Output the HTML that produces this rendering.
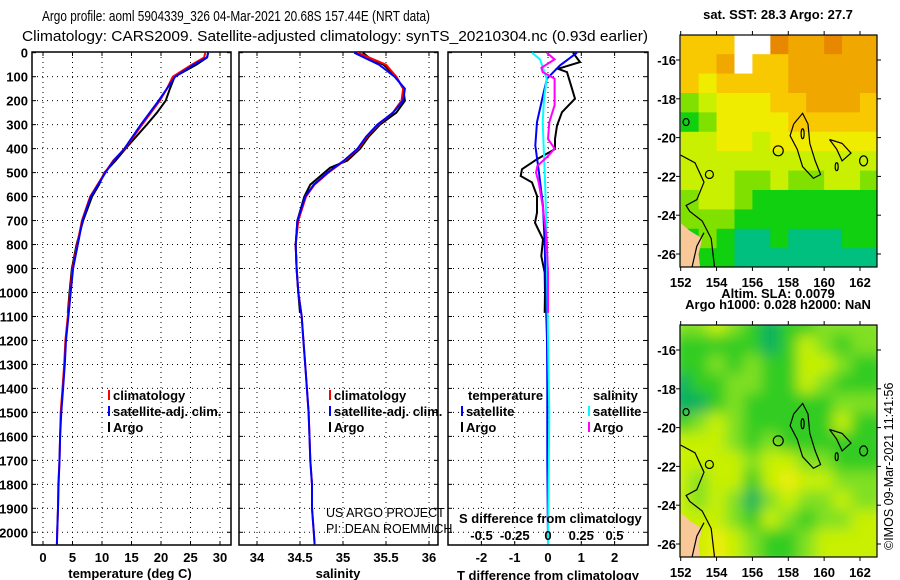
<!DOCTYPE html>
<html><head><meta charset="utf-8"><style>
html,body{margin:0;padding:0;background:#fff;}
svg{display:block;font-family:"Liberation Sans",sans-serif;}
.t{font-weight:bold;font-size:13px;fill:#000;}
.ti{font-weight:normal;font-size:15px;fill:#000;}
</style></head><body>
<svg id="c" width="900" height="580" viewBox="0 0 900 580" xmlns="http://www.w3.org/2000/svg">
<defs>
<clipPath id="cpT"><rect x="680" y="35" width="197" height="232"/></clipPath>
<clipPath id="cpB"><rect x="680" y="325" width="197" height="232"/></clipPath>
<filter id="bl" x="-10%" y="-10%" width="120%" height="120%"><feGaussianBlur stdDeviation="7"/></filter>
</defs>
<text class="ti" x="42" y="21" textLength="388" lengthAdjust="spacingAndGlyphs">Argo profile: aoml 5904339_326 04-Mar-2021 20.68S 157.44E (NRT data)</text>
<text class="ti" x="22" y="41" textLength="626" lengthAdjust="spacingAndGlyphs">Climatology: CARS2009. Satellite-adjusted climatology: synTS_20210304.nc (0.93d earlier)</text>
<g id="g"></g>
</svg>
<script>
// ---- profile data ----
const depthTClim = [0,20,50,100,150,200,300,400,450,500,600,700,800,900,1000,1100,1200,1300,1400,1500,1600,1700,1800,1900,2000,2050];
const tempClim   = [27.5,27.3,25.2,22.0,21.0,19.8,16.8,13.9,11.9,10.5,8.0,6.6,5.8,5.0,4.6,4.2,3.8,3.6,3.3,3.0,2.9,2.8,2.6,2.55,2.4,2.35];
const tempSat    = [28.0,27.8,25.5,22.4,21.0,19.6,16.6,13.8,12.0,10.6,8.1,6.7,5.9,5.1,4.7,4.3,3.9,3.7,3.4,3.1,2.9,2.8,2.65,2.55,2.4,2.35];
const depthArgo  = [0,20,50,100,150,200,250,300,400,450,500,550,600,700,800,900,1000,1085];
const tempArgo   = [28.0,27.8,26.0,22.3,21.5,20.8,19.3,17.6,14.0,12.3,10.4,9.5,8.3,6.8,5.7,4.9,4.5,4.2];
const depthSClim = [0,50,100,150,200,250,300,350,400,450,500,550,600,700,800,900,1000,1100,1200,1300,1400,1500,1600,1700,1800,1900,2000,2050];
const salClim    = [35.17,35.5,35.62,35.70,35.68,35.58,35.41,35.28,35.18,35.02,34.83,34.67,34.57,34.48,34.45,34.46,34.48,34.52,34.54,34.56,34.58,34.6,34.61,34.62,34.64,34.64,34.66,34.67];
const salSat     = [35.13,35.42,35.6,35.72,35.70,35.58,35.40,35.27,35.17,35.01,34.82,34.66,34.56,34.47,34.45,34.46,34.48,34.52,34.54,34.56,34.58,34.6,34.61,34.62,34.64,34.64,34.66,34.67];
const salArgo    = [35.23,35.30,35.47,35.62,35.70,35.72,35.62,35.43,35.3,35.2,35.05,34.85,34.62,34.55,34.47,34.45,34.46,34.48,34.5];
const depthSArgo = [0,20,50,100,150,200,250,300,350,400,450,480,550,600,700,800,900,1000,1085];
// difference panel
const dArgoT  = [0,39,67,81,150,192,248,304,360,402,444,486,514,541,597,667,709,778,848,917,1001,1085];
const diffTArgo = [0.75,0.96,0.3,0.57,0.72,0.81,0.42,0.27,0.21,0.21,-0.33,-0.78,-0.82,-0.48,-0.33,-0.33,-0.39,-0.15,-0.2,-0.1,-0.09,-0.1];
const dSatT   = [0,53,108,178,290,387,500,639,800,1057,1196,1400,1700,2050];
const diffTSat  = [0.87,0.36,-0.03,-0.15,-0.33,-0.38,-0.27,-0.15,-0.1,-0.06,-0.03,-0.02,-0.02,0.0];
const dSatS   = [0,28,108,192,290,430,570,778,1196,1500,2050];
const diffSSat  = [-0.12,-0.06,-0.01,-0.03,-0.04,-0.03,-0.02,-0.01,0.0,0.01,0.0];
const dArgoS  = [0,28,63,81,108,219,290,360,400,431,472,500,541,639,778,917,1085];
const diffSArgo = [-0.01,0.05,-0.05,-0.04,0.05,0.05,0.01,0.0,0.05,0.0,-0.08,-0.09,-0.07,-0.04,-0.01,0.0,0.0];
const depthTicks = [0,100,200,300,400,500,600,700,800,900,1000,1100,1200,1300,1400,1500,1600,1700,1800,1900,2000];
const tTicks = [0,5,10,15,20,25,30];
const sTicks = [34,34.5,35,35.5,36];
const dTTicks = [-2,-1,0,1,2];
const dSTicks = [-0.5,-0.25,0,0.25,0.5];
const dSLabels = ["-0.5","-0.25","0","0.25","0.5"];
// maps: rows lat -15..-26, cols lon 152..162 (colour class)
const sstGrid = [
 [5,5,5,9,9,7,6,6,7,6,6],
 [5,5,6,9,5,5,6,6,6,6,6],
 [5,4,5,5,5,5,6,6,6,6,6],
 [2,3,4,4,4,5,5,6,6,6,5],
 [1,2,4,4,4,4,5,5,5,5,5],
 [3,3,4,4,3,4,4,4,4,4,4],
 [3,3,3,3,3,3,3,3,3,3,3],
 [3,3,3,2,2,3,2,2,3,3,2],
 [2,3,3,2,1,1,1,1,1,1,1],
 [2,2,2,1,1,1,1,1,1,1,1],
 [1,2,1,0,0,1,0,0,0,1,1],
 [1,1,1,0,0,0,0,0,0,0,0]];
const slaGrid = [
 [2,2,3,2,1,0,1,1,2,2,2],
 [1,1,1,1,1,0,1,3,2,1,2],
 [1,1,2,1,2,1,1,3,3,2,1],
 [0,1,1,2,2,1,1,3,2,1,1],
 [0,0,1,2,1,1,1,1,1,2,2],
 [1,2,3,2,1,1,1,1,1,3,1],
 [3,3,3,2,1,2,1,1,1,1,1],
 [3,3,3,3,2,3,3,2,2,1,1],
 [3,2,3,3,1,3,4,3,3,2,2],
 [3,2,3,2,0,2,3,2,2,3,2],
 [3,3,3,2,1,3,2,1,2,2,3],
 [3,3,4,3,2,1,1,2,3,3,3]];
const lonTicks=[152,154,156,158,160,162];
const latTicks=[-16,-18,-20,-22,-24,-26];
const argoLon=157.44, argoLat=-20.68;

const NS="http://www.w3.org/2000/svg";
const G=document.getElementById('g');
function el(t,a,p){const e=document.createElementNS(NS,t);for(const k in a)e.setAttribute(k,a[k]);(p||G).appendChild(e);return e;}
function txt(x,y,s,a,p){const e=el('text',Object.assign({x:x,y:y,class:'t'},a||{}),p);e.textContent=s;return e;}
const Y=d=>52.7+d*0.2398;
const PB=545;
const xT=v=>43+v*5.9, xS=v=>257+(v-34)*86, xdT=v=>548+v*33.3, xdS=v=>548+v*133;

function panel(x0,x1,name,vt,vfn){
  const p=el('g',{});
  
  
  vt.forEach(v=>{const x=vfn(v);el('line',{x1:x,x2:x,y1:52,y2:PB,stroke:'#000','stroke-dasharray':'1,4','stroke-width':1},p);
    el('line',{x1:x,x2:x,y1:52,y2:56,stroke:'#000'},p);el('line',{x1:x,x2:x,y1:PB-4,y2:PB,stroke:'#000'},p);});
  depthTicks.forEach(d=>{const y=Y(d);if(d>0)el('line',{x1:x0,x2:x1,y1:y,y2:y,stroke:'#000','stroke-dasharray':'1,4'},p);
    el('line',{x1:x0,x2:x0+4,y1:y,y2:y,stroke:'#000'},p);el('line',{x1:x1-4,x2:x1,y1:y,y2:y,stroke:'#000'},p);});
  el('rect',{x:x0,y:52,width:x1-x0,height:PB-52,fill:'none',stroke:'#000','stroke-width':1.5},p);
  return p;
}
function line(xs,ds,fx,col,name,p){
  let s='';xs.forEach((v,i)=>{s+=(i?'L':'M')+fx(v).toFixed(1)+' '+Y(ds[i]).toFixed(1);});
  const e=el('path',{d:s,fill:'none',stroke:col,'stroke-width':2,'stroke-linejoin':'miter'},p);
  
  
}
depthTicks.forEach(d=>txt(28,Y(d)+5,String(d),{'text-anchor':'end'}));
const p1=panel(32,231,'temperature-panel',tTicks,xT);
line(tempArgo,depthArgo,xT,'#000','argo-temperature-line',p1);
line(tempClim,depthTClim,xT,'#f00','climatology-temperature-line',p1);
line(tempSat,depthTClim,xT,'#00f','satellite-temperature-line',p1);
tTicks.forEach(v=>txt(xT(v),562,String(v),{'text-anchor':'middle'}));
txt(130,578,'temperature (deg C)',{'text-anchor':'middle'});
const p2=panel(239,438,'salinity-panel',sTicks,xS);
line(salArgo,depthSArgo,xS,'#000','argo-salinity-line',p2);
line(salClim,depthSClim,xS,'#f00','climatology-salinity-line',p2);
line(salSat,depthSClim,xS,'#00f','satellite-salinity-line',p2);
sTicks.forEach(v=>txt(xS(v),562,String(v),{'text-anchor':'middle'}));
txt(338,578,'salinity',{'text-anchor':'middle'});
const p3=panel(448,648,'difference-panel',dTTicks,xdT);
line(diffTArgo,dArgoT,xdT,'#000','argo-t-diff-line',p3);
line(diffTSat,dSatT,xdT,'#00f','satellite-t-diff-line',p3);
line(diffSSat,dSatS,xdS,'#0ff','satellite-s-diff-line',p3);
line(diffSArgo,dArgoS,xdS,'#f0f','argo-s-diff-line',p3);
dTTicks.forEach(v=>txt(xdT(v),562,String(v),{'text-anchor':'middle'}));
dSTicks.forEach((v,i)=>txt(xdS(v),540,dSLabels[i],{'text-anchor':'middle'}));
txt(459,523,'S difference from climatology',{});
txt(548,580,'T difference from climatology',{'text-anchor':'middle'});
function leg(x,y,col,s,name){const g=el('g',{});
  el('rect',{x:x,y:y-10,width:2,height:10,fill:col},g);txt(x+5,y,s,{},g);}
[[108,'climatology','#f00'],[108,'satellite-adj. clim.','#00f'],[108,'Argo','#000']].forEach((r,i)=>leg(r[0],400+i*16,r[2],r[1],'temp-legend-entry'));
[[329,'climatology','#f00'],[329,'satellite-adj. clim.','#00f'],[329,'Argo','#000']].forEach((r,i)=>leg(r[0],400+i*16,r[2],r[1],'sal-legend-entry'));
txt(468,400,'temperature',{});txt(593,400,'salinity',{});
leg(461,416,'#00f','satellite','diff-legend-t-satellite');leg(461,432,'#000','Argo','diff-legend-t-argo');
leg(588,416,'#0ff','satellite','diff-legend-s-satellite');leg(588,432,'#f0f','Argo','diff-legend-s-argo');
txt(326,517,'US ARGO PROJECT',{style:'font-weight:normal;font-size:12.5px'});
txt(326,533,'PI: DEAN ROEMMICH',{style:'font-weight:normal;font-size:12.5px'});
const sstCol=['#00c080','#10d010','#80e000','#c8f000','#f0ec00','#f8c800','#f0a800','#e88800','#c03000','#ffffff'];
const slaCol=['#00b060','#30cc20','#80e020','#c8f000','#f0ec10','#f0d000'];
const mx=l=>680.7+(l-152)*17.93;
function map(top,grid,cols,cp,blur,name,title){
  const my=lat=>top+25+(-16-lat)*19.4;
  const g=el('g',{});
  
  
  const c=el('g',{'clip-path':'url(#'+cp+')'},g);
  const h=el('g',blur?{filter:'url(#bl)'}:{},c);
  grid.forEach((row,i)=>row.forEach((v,j)=>{const r=el('rect',{x:mx(152+j)-(blur?9:0),y:my(-14.7-i)-(blur?9:0),width:18.5+(blur?18:0),height:20+(blur?18:0),fill:cols[v]},h);
    }));
  const P=pts=>pts.map((q,i)=>(i?'L':'M')+mx(q[0]).toFixed(1)+' '+my(q[1]).toFixed(1)).join('');
  el('path',{d:P([[152,-24.4],[152.5,-24.8],[153.2,-25.2],[153,-26],[153.1,-26.8],[152,-26.8]])+'Z',fill:'#f8c898'},c);
  const cs={fill:'none',stroke:'#000','stroke-width':1.2};
  el('path',Object.assign({d:P([[158.3,-19.3],[158.8,-18.75],[159.1,-19.3],[159.2,-20.3],[159.5,-21.2],[159.8,-21.9],[159.4,-22.1],[158.8,-21.5],[158.5,-20.6],[158.1,-19.9],[158.3,-19.3]])},cs),c);
  el('path',Object.assign({d:P([[160.3,-20.1],[161,-20.3],[161.5,-20.8],[161,-21.2],[160.7,-20.6],[160.3,-20.1]])},cs),c);
  el('path',Object.assign({d:P([[152,-20.9],[152.8,-21.3],[153.3,-22.3],[152.9,-23.2],[152.3,-23.5],[152.5,-23.8],[153.2,-24.3],[153.7,-25.2],[153.8,-26],[153.9,-26.8]])},cs),c);
  el('path',Object.assign({d:P([[152.6,-26.8],[152.9,-25.6],[153.3,-24.9]])},cs),c);
  el('ellipse',Object.assign({cx:mx(162.2),cy:my(-21.2),rx:4,ry:5},cs),c);
  el('ellipse',Object.assign({cx:mx(152.3),cy:my(-19.2),rx:3,ry:3.5},cs),c);
  el('ellipse',Object.assign({cx:mx(153.6),cy:my(-21.9),rx:4,ry:4},cs),c);
  el('ellipse',Object.assign({cx:mx(158.8),cy:my(-19.8),rx:1.5,ry:5},cs),c);
  el('ellipse',Object.assign({cx:mx(160.7),cy:my(-21.5),rx:1.5,ry:4},cs),c);
  el('circle',Object.assign({cx:mx(argoLon),cy:my(argoLat),r:5},cs),c);
  el('rect',{x:680,y:top,width:197,height:232,fill:'none',stroke:'#000','stroke-width':1.2},g);
  lonTicks.forEach(l=>{el('line',{x1:mx(l),x2:mx(l),y1:top-4,y2:top,stroke:'#000'},g);el('line',{x1:mx(l),x2:mx(l),y1:top+232,y2:top+236,stroke:'#000'},g);
    txt(mx(l),top+252,String(l),{'text-anchor':'middle'},g);});
  latTicks.forEach(l=>{el('line',{x1:676,x2:680,y1:my(l),y2:my(l),stroke:'#000'},g);el('line',{x1:877,x2:881,y1:my(l),y2:my(l),stroke:'#000'},g);
    txt(676,my(l)+5,String(l),{'text-anchor':'end'},g);});
  txt(778,top-16,title,{'text-anchor':'middle'},g);
}
map(35,sstGrid,sstCol,'cpT',false,'sst-map','sat. SST: 28.3 Argo: 27.7');
map(325,slaGrid,slaCol,'cpB',true,'sla-map','Argo h1000: 0.028 h2000: NaN');
txt(778,298,'Altim. SLA: 0.0079',{'text-anchor':'middle'});
const cr=txt(0,0,'©IMOS 09-Mar-2021 11:41:56',{style:'font-weight:normal;font-size:12.5px',transform:'translate(893,550) rotate(-90)'});


</script>
</body></html>
